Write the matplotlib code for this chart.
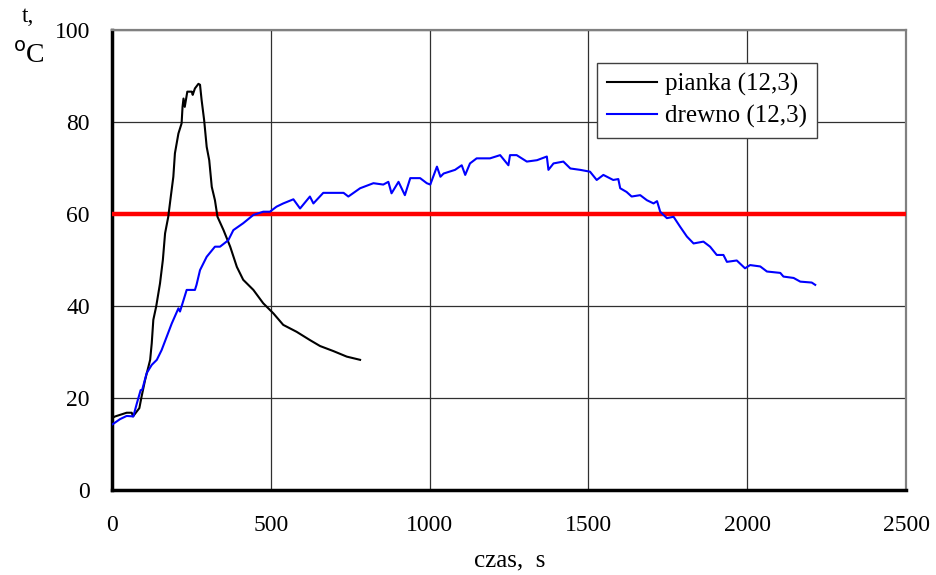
import numpy as np
import matplotlib
matplotlib.use("Agg")
import matplotlib.pyplot as plt

plt.rcParams['font.family'] = ['Liberation Serif', 'DejaVu Serif']

# pianka (12,3) - foam
t_pianka = [4, 10, 46, 62, 66, 86, 93, 104, 120, 125, 130, 139, 151, 160, 167, 177,
            185, 193, 198, 209, 219, 222, 225, 229, 237, 251, 254, 261, 272, 277,
            282, 290, 298, 306, 314, 324, 332, 351, 372, 393, 413, 445, 476, 508,
            539, 581, 623, 655, 697, 739, 781]
T_pianka = [15.8, 16.0, 16.8, 16.8, 16.0, 17.8, 20.3, 23.9, 28.3, 31.9, 37.0, 39.9,
            44.9, 50.0, 55.8, 59.4, 63.8, 68.1, 73.2, 77.5, 79.7, 83.3, 85.1, 83.3,
            86.6, 86.6, 85.9, 87.3, 88.3, 88.1, 84.8, 80.4, 74.6, 71.7, 65.9, 63.0,
            59.4, 56.5, 52.9, 48.5, 45.7, 43.5, 40.6, 38.4, 35.9, 34.4, 32.6, 31.3,
            30.2, 29.0, 28.3]

# drewno (12,3) - wood
t_drewno = [2, 25, 46, 67, 78, 90, 95, 109, 125, 141, 156, 172, 188, 209, 214, 235,
            261, 266, 277, 298, 324, 340, 366, 382, 413, 445, 476, 497, 518, 539,
            571, 592, 623, 634, 665, 729, 744, 781, 823, 854, 870, 880, 902, 922,
            939, 970, 991, 1002, 1023, 1034, 1044, 1080, 1101, 1112, 1127, 1148,
            1190, 1222, 1248, 1253, 1274, 1306, 1338, 1369, 1374, 1390, 1421, 1443,
            1474, 1505, 1526, 1547, 1578, 1594, 1600, 1620, 1636, 1663, 1684, 1705,
            1716, 1726, 1747, 1768, 1789, 1810, 1831, 1862, 1883, 1904, 1925, 1936,
            1967, 1993, 2009, 2041, 2062, 2104, 2114, 2146, 2167, 2203, 2214]
T_drewno = [14.3, 15.4, 16.1, 16.0, 18.8, 21.7, 21.8, 25.4, 27.2, 28.3, 30.4, 33.3,
            36.2, 39.5, 38.8, 43.5, 43.5, 44.6, 47.8, 50.7, 52.9, 52.9, 54.3, 56.5,
            58.0, 59.8, 60.5, 60.5, 61.6, 62.3, 63.2, 61.2, 63.8, 62.3, 64.6, 64.6,
            63.8, 65.6, 66.7, 66.4, 67.0, 64.5, 67.0, 64.1, 67.8, 67.8, 66.7, 66.4,
            70.3, 68.1, 68.8, 69.6, 70.6, 68.5, 71.0, 72.1, 72.1, 72.8, 70.6, 72.8,
            72.8, 71.4, 71.7, 72.5, 69.6, 71.0, 71.4, 69.9, 69.6, 69.2, 67.4, 68.5,
            67.4, 67.6, 65.6, 64.8, 63.8, 64.1, 63.0, 62.3, 62.8, 60.5, 59.1, 59.4,
            57.2, 55.1, 53.6, 54.0, 52.9, 51.1, 51.1, 49.6, 49.9, 48.2, 48.9, 48.6,
            47.5, 47.2, 46.4, 46.1, 45.3, 45.1, 44.6]

limit_T = 60

fig = plt.figure(figsize=(9.36, 5.75), dpi=100)
ax = fig.add_axes([0.1197, 0.1478, 0.8483, 0.8])

ax.axhline(limit_T, color='#ff0000', lw=3.2, zorder=3)
ax.plot(t_pianka, T_pianka, color='black', lw=1.5, label='pianka (12,3)', zorder=4)
ax.plot(t_drewno, T_drewno, color='#0000ff', lw=1.5, label='drewno (12,3)', zorder=4)

ax.set_xlim(0, 2500)
ax.set_ylim(0, 100)
ax.set_xticks(np.arange(0, 2501, 500))
ax.set_yticks(np.arange(0, 101, 20))
ax.grid(True, color='#303030', lw=0.9)
ax.set_axisbelow(True)
ax.tick_params(length=0, labelsize=17)
ax.tick_params(axis='y', pad=16)
ax.tick_params(axis='x', pad=18)

for s in ['left', 'bottom']:
    ax.spines[s].set_linewidth(2.5)
    ax.spines[s].set_color('black')
for s in ['top', 'right']:
    ax.spines[s].set_linewidth(1.6)
    ax.spines[s].set_color('#808080')

# axis titles
fig.text(0.545, 0.025, 'czas,  s', fontsize=18, ha='center', va='center')
fig.text(0.030, 0.972, 't,', fontsize=17, ha='center', va='center')
fig.text(0.031, 0.903, '$^{\\rm o}$C', fontsize=20, ha='center', va='center')

leg = ax.legend(loc='upper left', bbox_to_anchor=(0.611, 0.928), fontsize=18,
                frameon=True, fancybox=False, handlelength=2.0, borderpad=0.4,
                labelspacing=0.35, handletextpad=0.3, borderaxespad=0)
leg.get_frame().set_edgecolor('#404040')
leg.get_frame().set_linewidth(1.0)
leg.get_frame().set_alpha(1)

fig.savefig('out.png', dpi=100)
